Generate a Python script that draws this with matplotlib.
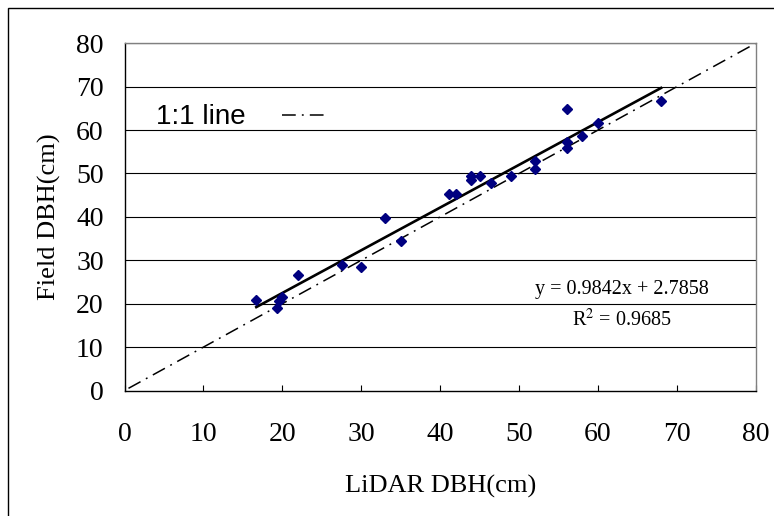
import matplotlib
matplotlib.use("Agg")
import matplotlib.pyplot as plt
from matplotlib.patches import Rectangle
import numpy as np

lidar_dbh = [16.7, 19.3, 19.6, 20.0, 22.0, 27.6, 30.0, 33.0, 35.0, 41.1, 42.0, 43.9,
             43.9, 45.0, 46.4, 49.0, 52.0, 52.0, 56.1, 56.1, 56.1, 58.0, 60.0, 68.0]
field_dbh = [20.9, 18.9, 20.6, 21.6, 26.5, 29.0, 28.5, 39.8, 34.4, 45.2, 45.2, 49.5,
             48.5, 49.5, 47.7, 49.5, 52.9, 51.1, 64.9, 57.3, 55.9, 58.6, 61.7, 66.7]
slope = 0.9842
intercept = 2.7858
r2 = 0.9685
ticks = [0, 10, 20, 30, 40, 50, 60, 70, 80]

serif = ["Liberation Serif", "DejaVu Serif"]
sans = ["Liberation Sans", "DejaVu Sans"]

fig = plt.figure(figsize=(7.74, 5.16), dpi=100)
ax = fig.add_axes([0.1609, 0.2432, 0.8155, 0.6729])

# figure frame
fig.patches.append(Rectangle((8 / 774, -0.1), 1.2, (516 - 8) / 516 + 0.1,
                             transform=fig.transFigure, fill=False,
                             edgecolor="black", linewidth=1.0, zorder=0))

ax.set_xlim(0, 80)
ax.set_ylim(0, 80)
ax.set_xticks(ticks)
ax.set_yticks(ticks)
for y in ticks[1:]:
    ax.axhline(y, color="black", linewidth=0.8, zorder=1)

# 1:1 line
l11, = ax.plot([0.5, 80], [0.5, 80], color="black", linewidth=1.1, zorder=2)
l11.set_dashes([9, 4, 1.2, 4])

# regression line
xr = np.array([min(lidar_dbh), max(lidar_dbh)])
ax.plot(xr, slope * xr + intercept, color="black", linewidth=1.9, zorder=3)

ax.plot(lidar_dbh, field_dbh, linestyle="none", marker="D", markersize=5.5,
        color="#000080", zorder=4)

# legend-like annotation
ax.text(4.0, 63.0, "1:1 line", family=sans, fontsize=20, va="center", ha="left")
ll, = ax.plot([20.0, 25.8], [63.5, 63.5], color="black", linewidth=1.1)
ll.set_dashes([9, 4, 1.2, 4])

ax.text(63.0, 23.3, "y = 0.9842x + 2.7858", family=serif, fontsize=14.5,
        ha="center", va="center")
ax.text(63.0, 16.3, r"R$^2$ = 0.9685", family=serif, fontsize=14.5,
        ha="center", va="center", math_fontfamily="stix")

for s in ["top", "right"]:
    ax.spines[s].set_color("#808080")
for s in ["left", "bottom"]:
    ax.spines[s].set_color("black")
for s in ax.spines.values():
    s.set_linewidth(1.0)

ax.tick_params(axis="x", direction="in", length=4, pad=23, labelsize=20, width=0.8)
ax.tick_params(axis="y", direction="in", length=0, pad=15, labelsize=20)
for lab in ax.get_xticklabels() + ax.get_yticklabels():
    lab.set_family(serif)

ax.set_xlabel("LiDAR DBH(cm)", family=serif, fontsize=19, labelpad=20)
ax.set_ylabel("Field DBH(cm)", family=serif, fontsize=19, labelpad=11)

fig.savefig("out.png", dpi=100)
